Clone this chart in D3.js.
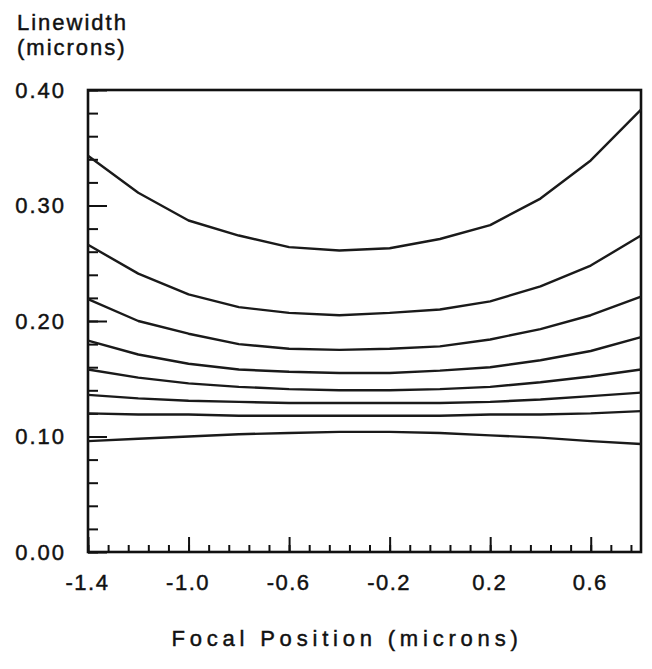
<!DOCTYPE html>
<html>
<head>
<meta charset="utf-8">
<script src="https://cdn.jsdelivr.net/npm/d3@7"></script>
<style>
  body { margin: 0; background: #fff; }
  svg text { font-family: "Liberation Sans", Arial, sans-serif; fill: #111; stroke: #111; stroke-width: 0.45px; }
</style>
</head>
<body>
<svg id="chart" width="652" height="669"></svg>
<script>
// focal positions (microns) where each curve was sampled
const focal = [-1.4, -1.2, -1.0, -0.8, -0.6, -0.4, -0.2, 0.0, 0.2, 0.4, 0.6, 0.8];

// linewidth (microns), one array per curve, top to bottom
const curve1 = [0.343, 0.311, 0.287, 0.274, 0.264, 0.261, 0.263, 0.271, 0.283, 0.306, 0.339, 0.383];
const curve2 = [0.266, 0.241, 0.223, 0.212, 0.207, 0.205, 0.207, 0.210, 0.217, 0.230, 0.248, 0.274];
const curve3 = [0.219, 0.200, 0.189, 0.180, 0.176, 0.175, 0.176, 0.178, 0.184, 0.193, 0.205, 0.221];
const curve4 = [0.183, 0.171, 0.163, 0.158, 0.156, 0.155, 0.155, 0.157, 0.160, 0.166, 0.174, 0.186];
const curve5 = [0.158, 0.151, 0.146, 0.143, 0.141, 0.140, 0.140, 0.141, 0.143, 0.147, 0.152, 0.158];
const curve6 = [0.136, 0.133, 0.131, 0.130, 0.129, 0.129, 0.129, 0.129, 0.130, 0.132, 0.135, 0.138];
const curve7 = [0.120, 0.119, 0.119, 0.118, 0.118, 0.118, 0.118, 0.118, 0.119, 0.119, 0.120, 0.122];
const curve8 = [0.096, 0.098, 0.100, 0.102, 0.103, 0.104, 0.104, 0.103, 0.101, 0.099, 0.096, 0.0935];
const curves = [curve1, curve2, curve3, curve4, curve5, curve6, curve7, curve8];

// tick labels
const xMajorTicks = [-1.4, -1.0, -0.6, -0.2, 0.2, 0.6];
const yMajorTicks = [0.0, 0.1, 0.2, 0.3, 0.4];

const svg = d3.select('#chart');
const plotLeft = 88, plotRight = 641, plotTop = 90, plotBottom = 552;

const x = d3.scaleLinear().domain([-1.4, 0.8]).range([plotLeft, plotRight]);
const y = d3.scaleLinear().domain([0, 0.4]).range([plotBottom, plotTop]);

const xMinorTicks = d3.range(0, 28).map(i => -1.4 + i * 0.08);
const yMinorTicks = d3.range(0, 21).map(i => i * 0.02);

// y axis: minor + major ticks pointing inward
const gyMinor = svg.append('g').attr('transform', `translate(${plotLeft},0)`)
    .call(d3.axisLeft(y).tickValues(yMinorTicks).tickSize(-10).tickFormat(''));
const gyMajor = svg.append('g').attr('transform', `translate(${plotLeft},0)`)
    .call(d3.axisLeft(y).tickValues(yMajorTicks).tickSize(-19).tickPadding(22)
        .tickFormat(d => d.toFixed(2)));

// x axis
const gxMinor = svg.append('g').attr('transform', `translate(0,${plotBottom})`)
    .call(d3.axisBottom(x).tickValues(xMinorTicks).tickSize(-7).tickFormat(''));
const gxMajor = svg.append('g').attr('transform', `translate(0,${plotBottom})`)
    .call(d3.axisBottom(x).tickValues(xMajorTicks).tickSize(-15).tickPadding(22)
        .tickFormat(d => d.toFixed(1)));

[gyMinor, gyMajor, gxMinor, gxMajor].forEach(g => {
    g.select('.domain').remove();
    g.selectAll('line').attr('stroke', '#111').attr('stroke-width', 2);
});
gyMajor.selectAll('text').attr('font-size', 22).attr('letter-spacing', '2px').attr('fill', '#111');
gxMajor.selectAll('text').attr('font-size', 22).attr('letter-spacing', '1.5px').attr('fill', '#111')
    .attr('dx', -1);

// frame
svg.append('rect')
    .attr('x', plotLeft).attr('y', plotTop)
    .attr('width', plotRight - plotLeft).attr('height', plotBottom - plotTop)
    .attr('fill', 'none').attr('stroke', '#111').attr('stroke-width', 2.6);

// curves
const line = d3.line().x((d, i) => x(focal[i])).y(d => y(d));
svg.append('g').selectAll('path').data(curves).join('path')
    .attr('d', line)
    .attr('fill', 'none')
    .attr('stroke', '#1a1a1a')
    .attr('stroke-width', 2.4)
    .attr('stroke-linejoin', 'round');

// titles
svg.append('text').attr('x', 17).attr('y', 30)
    .attr('font-size', 22).attr('letter-spacing', '2px').text('Linewidth');
svg.append('text').attr('x', 17).attr('y', 55)
    .attr('font-size', 22).attr('letter-spacing', '2px').text('(microns)');
svg.append('text').attr('x', 347).attr('y', 646)
    .attr('text-anchor', 'middle')
    .attr('font-size', 22).attr('letter-spacing', '4.8px').text('Focal Position (microns)');
</script>
</body>
</html>
